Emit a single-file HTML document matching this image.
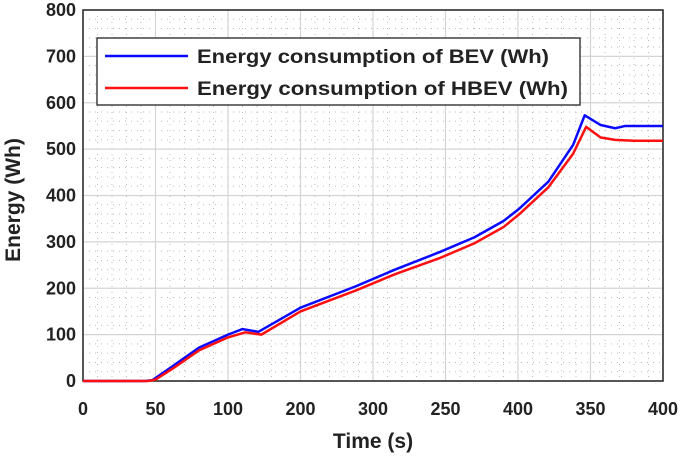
<!DOCTYPE html>
<html><head><meta charset="utf-8"><style>
body{margin:0;background:#fff;}
svg{display:block;font-family:"Liberation Sans",Arial,sans-serif;}
</style></head><body>
<svg id="chart" width="685" height="458"></svg>
<script>
const xTickLabels=["0","50","100","200","300","250","400","350","400"];
const yTicks=[0,100,200,300,400,500,600,700,800];
const bevT=[0,43,48,60,80,100,110,121,150,188,215,246,270,290,301,321,338,346,357,367,374,400];
const bevE=[0,0,2,28,72,100,112,106,158,204,240,278,310,345,372,430,509,573,552,545,550,550];
const redT=[0,45,50,62,80,100,112,123,150,188,215,246,270,290,301,321,338,347,357,367,380,400];
const redE=[0,0,3,27,66,94,105,100,150,195,230,265,297,332,360,418,490,548,525,520,518,518];
const X0=83,X1=663,Y0=381,Y1=10;
const sx=t=>X0+t/400*(X1-X0), sy=v=>Y0-v/800*(Y0-Y1);
const svg=document.getElementById('chart');const NS='http://www.w3.org/2000/svg';
function mk(tag,attrs,parent){const e=document.createElementNS(NS,tag);for(const k in attrs)e.setAttribute(k,attrs[k]);(parent||svg).appendChild(e);return e;}
for(let i=1;i<40;i++){if(i%5===0)continue;const x=X0+i*(X1-X0)/40;const g=mk('line',{x1:x,y1:Y1,x2:x,y2:Y0,stroke:'#bbb','stroke-width':1,'stroke-dasharray':'1,5'});

}
for(let i=1;i<40;i++){if(i%5===0)continue;const y=Y0-i*(Y0-Y1)/40;const g=mk('line',{x1:X0,y1:y,x2:X1,y2:y,stroke:'#bbb','stroke-width':1,'stroke-dasharray':'1,5'});

}
xTickLabels.forEach((l,i)=>{const x=X0+i*(X1-X0)/8;
const g=mk('line',{x1:x,y1:Y1,x2:x,y2:Y0,stroke:'#d4d4d4','stroke-width':1.2});


const t=mk('text',{x:x,y:Y0+34,'text-anchor':'middle','font-size':18,'font-weight':'bold',fill:'#222'});t.textContent=l;

});
yTicks.forEach(v=>{const y=sy(v);
const g=mk('line',{x1:X0,y1:y,x2:X1,y2:y,stroke:'#d4d4d4','stroke-width':1.2});


const t=mk('text',{x:X0-7,y:y+6,'text-anchor':'end','font-size':18,'font-weight':'bold',fill:'#222'});t.textContent=v;

});
const fr=mk('rect',{x:X0,y:Y1,width:X1-X0,height:Y0-Y1,fill:'none',stroke:'#222','stroke-width':1.5});


function series(T,E,c,name){const p=mk('polyline',{points:T.map((t,i)=>sx(t)+','+sy(E[i])).join(' '),fill:'none',stroke:c,'stroke-width':2.5,'stroke-linejoin':'round'});

}
series(bevT,bevE,'#0a0aff','bev-line');
series(redT,redE,'#ff1010','hbev-line');
const lg=mk('g',{});


mk('rect',{x:97,y:38,width:483,height:67,fill:'#fff',stroke:'#222','stroke-width':1.3},lg);
mk('line',{x1:105,y1:56,x2:188,y2:56,stroke:'#0a0aff','stroke-width':2.5},lg);
mk('line',{x1:105,y1:88,x2:188,y2:88,stroke:'#ff1010','stroke-width':2.5},lg);
const l1=mk('text',{x:197,y:63,'font-size':19,'font-weight':'bold',fill:'#222',textLength:352,lengthAdjust:'spacingAndGlyphs'},lg);l1.textContent='Energy consumption of BEV (Wh)';


const l2=mk('text',{x:197,y:95,'font-size':19,'font-weight':'bold',fill:'#222',textLength:371,lengthAdjust:'spacingAndGlyphs'},lg);l2.textContent='Energy consumption of HBEV (Wh)';


const xt=mk('text',{x:373,y:448,'text-anchor':'middle','font-size':21,'font-weight':'bold',fill:'#222'});xt.textContent='Time (s)';


const yt=mk('text',{x:0,y:0,'text-anchor':'middle','font-size':21,'font-weight':'bold',fill:'#222',transform:'translate(20,200) rotate(-90)'});yt.textContent='Energy (Wh)';


</script>
</body></html>
